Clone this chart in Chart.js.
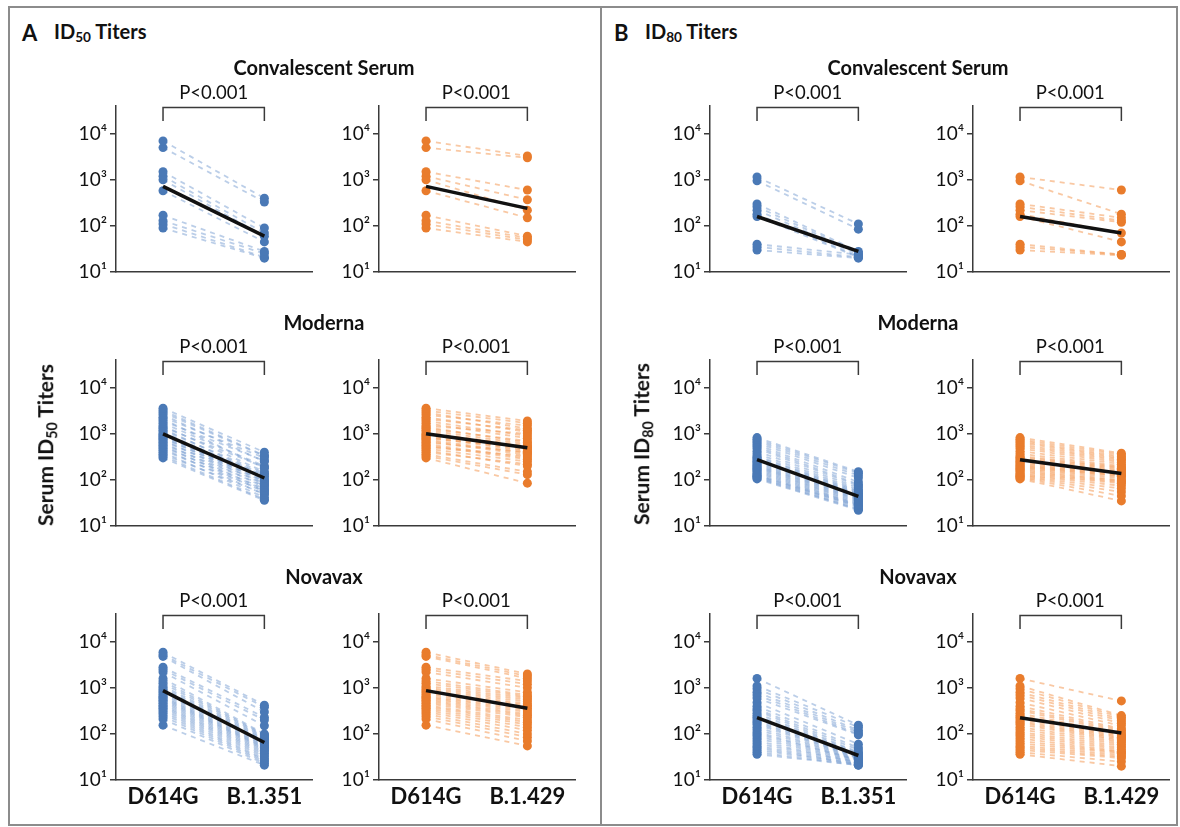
<!DOCTYPE html>
<html>
<head>
<meta charset="utf-8">
<script src="https://cdn.jsdelivr.net/npm/chart.js@4.4.1/dist/chart.umd.min.js"></script>
<style>
  html, body { margin: 0; padding: 0; background: #fff; }
  #page { position: relative; width: 1180px; height: 827px; overflow: hidden; background: #fff;
          font-family: Lato, "Noto Sans", sans-serif; color: #111; }
  .frame { position: absolute; border: 2px solid #8c8c8c; box-sizing: border-box; }
  .abs { position: absolute; white-space: nowrap; transform: translate(-50%, -50%); }
  .panelLetter { position: absolute; font-weight: 700; font-size: 22px; transform: translateY(-50%); }
  .panelTitle { position: absolute; font-weight: 700; font-size: 20px; transform: translateY(-50%); white-space: nowrap; }
  .rowTitle { font-weight: 700; font-size: 20px; }
  .pval { font-size: 18.5px; font-weight: 400; }
  .ytitle { font-weight: 700; font-size: 21px; transform: translate(-50%, -50%) rotate(-90deg); }
  sub { font-size: 0.68em; vertical-align: -0.25em; }
  canvas { position: absolute; }
</style>
</head>
<body>
<div id="page"></div>
<script>
// ---------- categories / ticks ----------
const leftCategories  = ['D614G', 'B.1.351'];
const rightCategories = ['D614G', 'B.1.429'];
const yTickValues = [10, 100, 1000, 10000];
const yTickLabels = ['10\u00B9', '10\u00B2', '10\u00B3', '10\u2074'];
const rowTitles = ['Convalescent Serum', 'Moderna', 'Novavax'];
const pValueText = 'P<0.001';

// ---------- ID50 : convalescent serum ----------
const convD614G_ID50  = [7000, 5000, 1500, 1200, 1000, 580, 170, 130, 110, 90];
const convB1351_ID50  = [400, 330, 90, 70, 60, 45, 28, 25, 21, 20];
const convB1429_ID50  = [3300, 3000, 600, 370, 220, 150, 60, 55, 50, 45];
const convMean_ID50_L = [720, 60];
const convMean_ID50_R = [720, 240];

// ---------- ID50 : Moderna ----------
const modD614G_ID50 = [3600, 3200, 2900, 2600, 2300, 2100, 1900, 1700, 1500, 1400, 1300, 1200, 1100, 1000, 950,
                       900, 850, 800, 750, 700, 650, 600, 560, 520, 480, 440, 400, 360, 330, 300];
const modB1351_ID50 = [400, 340, 330, 250, 300, 180, 260, 200, 150, 190, 120, 140, 110, 130, 90,
                       100, 80, 95, 70, 85, 60, 75, 55, 65, 48, 58, 42, 50, 38, 36];
const modB1429_ID50 = [1900, 1700, 1300, 1500, 1100, 1200, 900, 800, 1000, 650, 700, 600, 520, 560, 480,
                       450, 420, 500, 380, 350, 400, 300, 280, 330, 250, 200, 220, 150, 130, 85];
const modMean_ID50_L = [1000, 110];
const modMean_ID50_R = [1000, 500];

// ---------- ID50 : Novavax ----------
const novD614G_ID50 = [5900, 5200, 4800, 2800, 2500, 2200, 1600, 1400, 1250, 1100, 1000, 920, 850, 780, 720,
                       660, 620, 580, 540, 500, 460, 420, 390, 360, 330, 300, 270, 240, 210, 155];
const novB1351_ID50 = [420, 380, 300, 230, 200, 150, 100, 95, 90, 85, 80, 75, 70, 66, 62,
                       58, 55, 52, 50, 47, 44, 41, 38, 35, 32, 29, 27, 25, 23, 21];
const novB1429_ID50 = [2000, 1800, 1600, 1400, 1200, 1000, 800, 700, 650, 600, 550, 500, 450, 420, 390,
                       360, 330, 300, 270, 250, 230, 200, 180, 160, 140, 120, 100, 85, 70, 55];
const novMean_ID50_L = [870, 65];
const novMean_ID50_R = [870, 360];

// ---------- ID80 : convalescent serum ----------
const convD614G_ID80  = [1150, 950, 300, 260, 220, 180, 160, 40, 35, 30];
const convB1351_ID80  = [110, 85, 28, 26, 24, 22, 21, 24, 21, 20];
const convB1429_ID80  = [600, 180, 150, 130, 120, 70, 45, 24, 24, 23];
const convMean_ID80_L = [160, 28];
const convMean_ID80_R = [160, 70];

// ---------- ID80 : Moderna ----------
const modD614G_ID80 = [830, 760, 700, 640, 580, 530, 480, 420, 370, 330, 310, 290, 270, 255, 240,
                       225, 210, 200, 190, 180, 170, 160, 150, 140, 130, 125, 120, 115, 110, 105];
const modB1351_ID80 = [150, 140, 125, 110, 90, 80, 75, 68, 62, 58, 55, 52, 50, 48, 46,
                       44, 42, 40, 38, 36, 34, 32, 30, 29, 28, 27, 26, 24, 23, 22];
const modB1429_ID80 = [380, 350, 320, 300, 280, 260, 240, 220, 200, 190, 180, 170, 160, 150, 145,
                       140, 135, 130, 125, 120, 110, 100, 95, 90, 85, 75, 65, 55, 45, 35];
const modMean_ID80_L = [275, 44];
const modMean_ID80_R = [275, 138];

// ---------- ID80 : Novavax ----------
const novD614G_ID80 = [1600, 1100, 950, 800, 700, 600, 480, 400, 350, 320, 280, 250, 230, 210, 190,
                       175, 160, 140, 125, 110, 100, 90, 80, 70, 62, 55, 50, 45, 40, 36];
const novB1351_ID80 = [155, 140, 120, 110, 100, 95, 60, 50, 45, 40, 38, 36, 34, 33, 32,
                       31, 30, 29, 28, 27, 27, 26, 25, 24, 24, 23, 22, 22, 21, 21];
const novB1429_ID80 = [520, 250, 230, 210, 190, 170, 150, 130, 120, 110, 100, 95, 90, 85, 80,
                       75, 70, 65, 60, 55, 50, 46, 42, 40, 38, 35, 32, 30, 25, 20];
const novMean_ID80_L = [225, 34];
const novMean_ID80_R = [225, 105];

// ---------- styling ----------
const BLUE = { point: '#4a79b6', line: 'rgba(120,158,210,0.5)' };
const ORANGE = { point: '#e97c2c', line: 'rgba(244,155,88,0.55)' };
const AXIS = '#3a3a3a';
const FONT = 'Lato, "Noto Sans", sans-serif';

const page = document.getElementById('page');
function addDiv(cls, html, x, y) {
  const d = document.createElement('div');
  d.className = cls; d.innerHTML = html;
  d.style.left = x + 'px'; d.style.top = y + 'px';
  page.appendChild(d); return d;
}

// frame
const outer = document.createElement('div');
outer.className = 'frame';
Object.assign(outer.style, { left: '8px', top: '6px', width: '1170px', height: '820px' });
page.appendChild(outer);
const divider = document.createElement('div');
Object.assign(divider.style, { position: 'absolute', left: '600px', top: '6px', width: '2px', height: '820px', background: '#8c8c8c' });
page.appendChild(divider);

// geometry
const PLOT_W = 196, PLOT_H = 166;
const colX = [116, 378.5, 710, 972.5];
const rowTop = [106, 360, 614];
const PAD_L = 70, PAD_R = 14, PAD_T = 20, X_H = 44;

const bracketPlugin = {
  id: 'bracket',
  afterDraw(chart) {
    const { ctx, chartArea, scales } = chart;
    const x0 = scales.x.getPixelForValue(0), x1 = scales.x.getPixelForValue(1);
    const yT = chartArea.top + 1.5, yB = chartArea.top + 15;
    ctx.save();
    ctx.strokeStyle = AXIS; ctx.lineWidth = 1.5;
    ctx.beginPath();
    ctx.moveTo(x0, yB); ctx.lineTo(x0, yT); ctx.lineTo(x1, yT); ctx.lineTo(x1, yB);
    ctx.stroke();
    ctx.restore();
  }
};

function makeChart(cfg) {
  const W = PAD_L + PLOT_W + PAD_R, H = PAD_T + PLOT_H + X_H;
  const left = cfg.axisX - PAD_L, top = cfg.axisTop - PAD_T;
  const cv = document.createElement('canvas');
  cv.width = W; cv.height = H;
  cv.style.left = left + 'px'; cv.style.top = top + 'px';
  cv.style.width = W + 'px'; cv.style.height = H + 'px';
  page.appendChild(cv);

  const datasets = [];
  for (let i = 0; i < cfg.base.length; i++) {
    datasets.push({
      data: [{ x: 0, y: cfg.base[i] }, { x: 1, y: cfg.variant[i] }],
      borderColor: cfg.color.line, borderWidth: 1.8, borderDash: [5, 5],
      pointRadius: 4.5, pointBackgroundColor: cfg.color.point, pointBorderWidth: 0,
      order: 2
    });
  }
  datasets.push({
    data: [{ x: 0, y: cfg.mean[0] }, { x: 1, y: cfg.mean[1] }],
    borderColor: '#111', borderWidth: 3.5, pointRadius: 0, order: 0
  });

  const chart = new Chart(cv, {
    type: 'line',
    data: { datasets },
    plugins: [bracketPlugin],
    options: {
      responsive: false, animation: false, devicePixelRatio: 1,
      layout: { padding: { top: PAD_T, right: PAD_R, left: 0, bottom: 0 } },
      plugins: { legend: { display: false }, tooltip: { enabled: false }, title: { display: false } },
      scales: {
        x: {
          type: 'linear', min: -0.464, max: 1.47,
          afterBuildTicks: s => { s.ticks = [{ value: 0 }, { value: 1 }]; },
          afterFit: s => { s.height = X_H; },
          grid: { display: false, drawTicks: false, tickLength: 0 },
          border: { display: true, color: AXIS, width: 1.5 },
          ticks: {
            display: cfg.showX, padding: 4, color: '#111', maxRotation: 0, autoSkip: false,
            font: { family: FONT, size: 22, weight: 'bold' },
            callback: v => cfg.cats[v]
          }
        },
        y: {
          type: 'logarithmic', min: 10, max: 40000,
          afterBuildTicks: s => { s.ticks = yTickValues.map(v => ({ value: v })); },
          afterFit: s => { s.width = PAD_L; },
          grid: { display: true, drawOnChartArea: false, drawTicks: true, tickLength: 6, color: AXIS, lineWidth: 1.5 },
          border: { display: true, color: AXIS, width: 1.5 },
          ticks: {
            padding: 3, color: '#111', autoSkip: false,
            font: { family: FONT, size: 19 },
            callback: v => yTickLabels[yTickValues.indexOf(v)]
          }
        }
      }
    }
  });

  const x0 = chart.scales.x.getPixelForValue(0), x1 = chart.scales.x.getPixelForValue(1);
  addDiv('abs pval', pValueText, left + (x0 + x1) / 2, cfg.axisTop - 14);
  return chart;
}

const grid = [
  // panel A (ID50)
  [convD614G_ID50, convB1351_ID50, convMean_ID50_L, convB1429_ID50, convMean_ID50_R],
  [modD614G_ID50,  modB1351_ID50,  modMean_ID50_L,  modB1429_ID50,  modMean_ID50_R],
  [novD614G_ID50,  novB1351_ID50,  novMean_ID50_L,  novB1429_ID50,  novMean_ID50_R],
  // panel B (ID80)
  [convD614G_ID80, convB1351_ID80, convMean_ID80_L, convB1429_ID80, convMean_ID80_R],
  [modD614G_ID80,  modB1351_ID80,  modMean_ID80_L,  modB1429_ID80,  modMean_ID80_R],
  [novD614G_ID80,  novB1351_ID80,  novMean_ID80_L,  novB1429_ID80,  novMean_ID80_R]
];

for (let p = 0; p < 2; p++) {
  for (let r = 0; r < 3; r++) {
    const g = grid[p * 3 + r];
    const showX = r === 2;
    makeChart({ axisX: colX[p * 2], axisTop: rowTop[r], base: g[0], variant: g[1], mean: g[2],
                color: BLUE, cats: leftCategories, showX });
    makeChart({ axisX: colX[p * 2 + 1], axisTop: rowTop[r], base: g[0], variant: g[3], mean: g[4],
                color: ORANGE, cats: rightCategories, showX });
  }
}

// row titles
const rowTitleY = [67, 322, 576];
const panelTitleX = [324, 918];
for (let p = 0; p < 2; p++)
  for (let r = 0; r < 3; r++)
    addDiv('abs rowTitle', rowTitles[r], panelTitleX[p], rowTitleY[r]);

// panel headings
addDiv('panelLetter', 'A', 22, 32);
addDiv('panelTitle', 'ID<sub>50</sub> Titers', 54, 32);
addDiv('panelLetter', 'B', 614, 32);
addDiv('panelTitle', 'ID<sub>80</sub> Titers', 645, 32);

// y-axis titles
addDiv('abs ytitle', 'Serum ID<sub>50</sub> Titers', 46, 445);
addDiv('abs ytitle', 'Serum ID<sub>80</sub> Titers', 642, 444);
</script>
</body>
</html>
